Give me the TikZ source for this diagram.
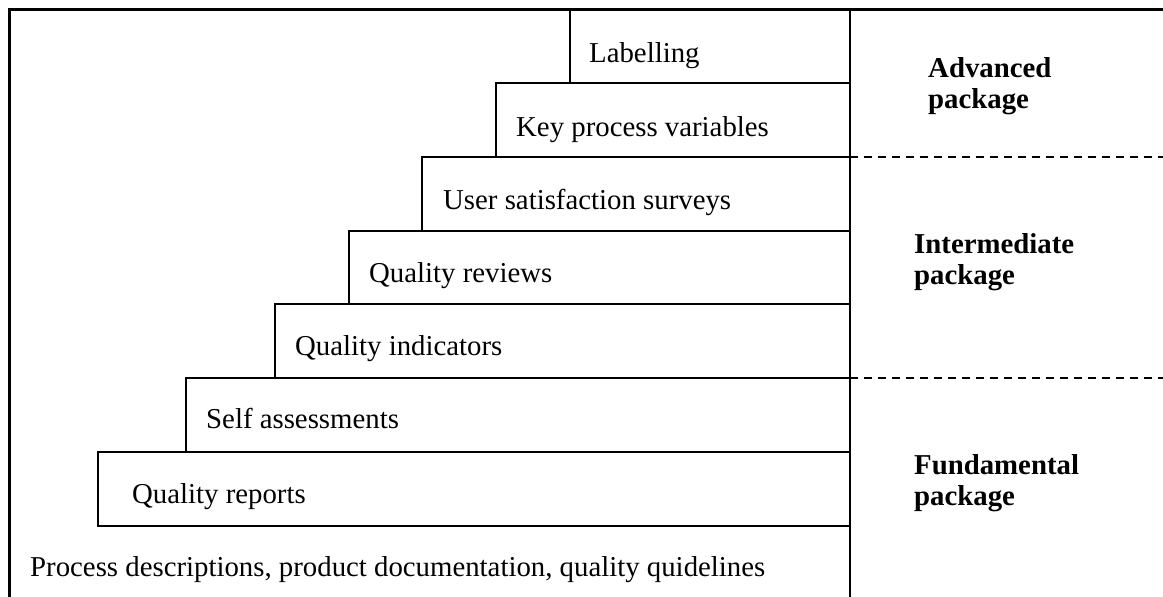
\documentclass[tikz,border=0pt]{standalone}
\usepackage{fontspec}
\setmainfont{Liberation Serif}
\begin{document}
\begin{tikzpicture}[x=1pt,y=-1pt,
  stepline/.style={line width=2pt},
  frameline/.style={line width=3pt},
  sepline/.style={line width=2pt, dash pattern=on 8pt off 6pt},
  steptext/.style={anchor=base west, inner sep=0pt, font=\fontsize{28.8}{31}\selectfont},
  pkgtext/.style={anchor=base west, inner sep=0pt, align=left,
    font=\fontsize{28.8}{31}\selectfont\bfseries}]
\useasboundingbox (0,0) rectangle (1163,597);
\fill[white] (0,0) rectangle (1163,597);

% the staircase: left edge, top and bottom of each step
\foreach \l/\t/\b in {570/9/83, 496/83/157, 422/157/231, 349/231/304,
                      275/304/378, 186/378/452, 98/452/526}
  \draw[stepline] (\l,\t) rectangle (850,\b);

% step labels
\node[steptext] (labelling) at (589,62)  {Labelling};
\node[steptext] (keyvars)   at (516,136) {Key process variables};
\node[steptext] (survey)    at (443,209) {User satisfaction surveys};
\node[steptext] (reviews)   at (369,282) {Quality reviews};
\node[steptext] (indic)     at (295,355) {Quality indicators};
\node[steptext] (selfass)   at (206,428) {Self assessments};
\node[steptext] (reports)   at (132,503) {Quality reports};
\node[steptext] (base)      at (30,576)  {Process descriptions, product documentation, quality quidelines};

% package column divider and separators
\draw[stepline] (850,9) -- (850,597);
\draw[sepline] (850,157) -- (1163,157);
\draw[sepline] (850,378) -- (1163,378);

% package names (anchored at the baseline of the second line)
\node[pkgtext] (adv) at (928,108) {Advanced\\package};
\node[pkgtext] (mid) at (914,284) {Intermediate\\package};
\node[pkgtext] (fun) at (914,505) {Fundamental\\package};

% outer frame
\draw[frameline] (1163,9) -- (9,9) -- (9,597);
\end{tikzpicture}
\end{document}
